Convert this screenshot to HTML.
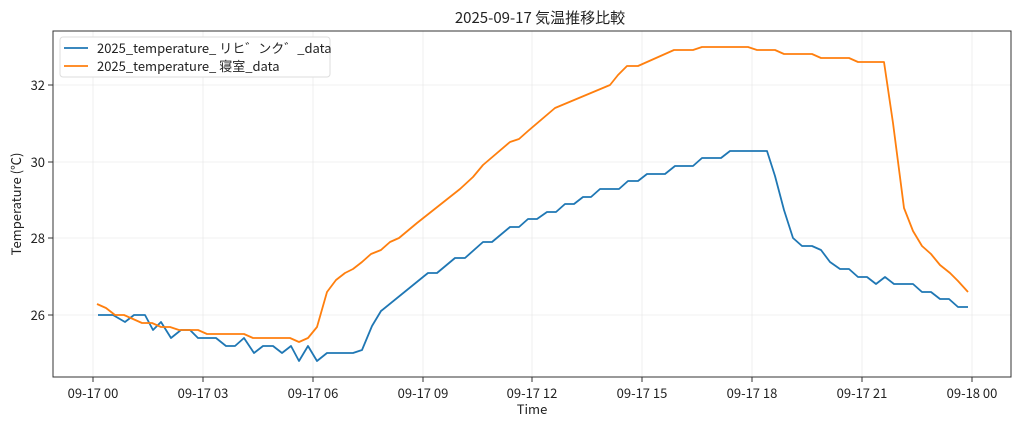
<!DOCTYPE html>
<html><head><meta charset="utf-8"><style>
body{margin:0;background:#fff;}
svg text{font-family:"Noto Sans CJK JP","IPAGothic",sans-serif;fill:#222;}
</style></head><body>
<svg width="1024" height="427" xmlns="http://www.w3.org/2000/svg">
<rect width="1024" height="427" fill="#fff"/>
<g stroke="#ebebeb" stroke-width="0.8">
<line x1="93" y1="31" x2="93" y2="377"/><line x1="203" y1="31" x2="203" y2="377"/>
<line x1="313" y1="31" x2="313" y2="377"/><line x1="423" y1="31" x2="423" y2="377"/>
<line x1="532" y1="31" x2="532" y2="377"/><line x1="642" y1="31" x2="642" y2="377"/>
<line x1="752" y1="31" x2="752" y2="377"/><line x1="862" y1="31" x2="862" y2="377"/>
<line x1="972" y1="31" x2="972" y2="377"/>
<line x1="53" y1="315" x2="1011" y2="315"/><line x1="53" y1="238" x2="1011" y2="238"/>
<line x1="53" y1="162" x2="1011" y2="162"/><line x1="53" y1="85" x2="1011" y2="85"/>
</g>
<polyline fill="none" stroke="#1f77b4" stroke-width="1.8" stroke-linejoin="round" points="98,315 113,315 125,322 134,315 145,315 153,330 161,322 171,338 181,330 190,330 198,338 216,338 226,346 235,346 244,338 254,353 263,346 273,346 282,353 291,346 299,361 308,346 317,361 327,353 353,353 362,350 372,326 381,311 423,277 428,273 437,273 455,258 465,258 483,242 492,242 510,227 519,227 528,219 537,219 547,212 556,212 565,204 574,204 583,197 591,197 600,189 619,189 628,181 638,181 647,174 665,174 675,166 693,166 702,158 721,158 730,151 767,151 775,176 784,210 793,238 802,246 812,246 821,250 830,262 840,269 849,269 858,277 867,277 876,284 885,277 894,284 913,284 922,292 931,292 940,299 949,299 958,307 968,307"/>
<polyline fill="none" stroke="#ff7f0e" stroke-width="1.8" stroke-linejoin="round" points="97,304 106,308 115,315 124,315 133,319 142,323 152,323 161,327 170,327 179,330 198,330 207,334 244,334 253,338 290,338 299,342 308,338 317,327 327,292 336,280 345,273 353,269 362,262 371,254 381,250 390,242 399,238 417,223 460,189 473,177 483,165 510,142 519,139 528,131 555,108 610,85 618,75 627,66 638,66 665,54 674,50 693,50 702,47 748,47 757,50 775,50 784,54 812,54 821,58 849,58 858,62 884,62 893,123 904,208 913,231 922,246 931,254 940,265 950,273 958,281 968,292"/>
<rect x="53" y="31" width="958" height="346" fill="none" stroke="#333" stroke-width="1"/>
<g stroke="#333"><line x1="48" y1="315" x2="53" y2="315"/><line x1="48" y1="238" x2="53" y2="238"/><line x1="48" y1="162" x2="53" y2="162"/><line x1="48" y1="85" x2="53" y2="85"/>
<line x1="93" y1="377" x2="93" y2="382"/><line x1="203" y1="377" x2="203" y2="382"/><line x1="313" y1="377" x2="313" y2="382"/><line x1="423" y1="377" x2="423" y2="382"/><line x1="532" y1="377" x2="532" y2="382"/><line x1="642" y1="377" x2="642" y2="382"/><line x1="752" y1="377" x2="752" y2="382"/><line x1="862" y1="377" x2="862" y2="382"/><line x1="972" y1="377" x2="972" y2="382"/></g>
<g font-size="13" text-anchor="end"><text x="45" y="320">26</text><text x="45" y="243">28</text><text x="45" y="167">30</text><text x="45" y="90">32</text></g>
<g font-size="13" text-anchor="middle"><text x="93" y="398">09-17 00</text><text x="203" y="398">09-17 03</text><text x="313" y="398">09-17 06</text><text x="423" y="398">09-17 09</text><text x="532" y="398">09-17 12</text><text x="642" y="398">09-17 15</text><text x="752" y="398">09-17 18</text><text x="862" y="398">09-17 21</text><text x="972" y="398">09-18 00</text>
<text x="532" y="414" font-size="13">Time</text>
<text x="540" y="23" font-size="15">2025-09-17 気温推移比較</text>
<text transform="translate(21,204) rotate(-90)" font-size="13">Temperature (℃)</text></g>
<rect x="60" y="37" width="270" height="40" rx="3" fill="#fff" stroke="#ddd"/>
<line x1="64" y1="48" x2="88" y2="48" stroke="#1f77b4" stroke-width="1.8"/>
<line x1="64" y1="66" x2="88" y2="66" stroke="#ff7f0e" stroke-width="1.8"/>
<g font-size="13"><text x="97" y="53">2025_temperature_ リヒ゛ンク゛_data</text><text x="97" y="71">2025_temperature_ 寝室_data</text></g>
</svg>
</body></html>
